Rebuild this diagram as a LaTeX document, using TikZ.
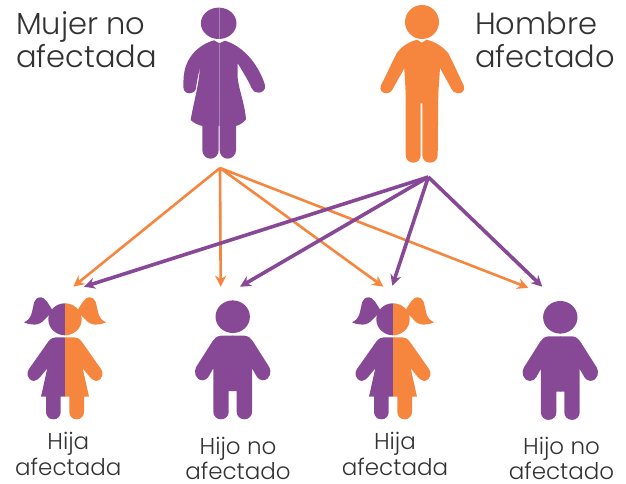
\documentclass[tikz,border=0pt]{standalone}
\usepackage{fontspec}
\setmainfont{Poppins Light}
\usetikzlibrary{arrows.meta}
\definecolor{violeta}{RGB}{135,73,150}
\definecolor{naranja}{RGB}{246,133,62}
\definecolor{texto}{RGB}{50,50,50}
\tikzset{
    flechaM/.style={naranja, line width=2.6pt, -{Stealth[length=11pt,width=11pt]}},
    flechaH/.style={violeta, line width=3.6pt, -{Stealth[length=11pt,width=11pt]}},
    titulo/.style={texto, anchor=base west, align=left, font=\fontsize{30.5}{33}\selectfont},
    etiqueta/.style={texto, anchor=base, align=center, font=\fontsize{23}{25.5}\selectfont},
    % media nina, lado izquierdo, eje en x=0
    medianina/.pic={
        \fill (0,335.3) arc[start angle=90, end angle=270, x radius=16.7, y radius=16] -- cycle;
        \fill (-13,309.5) .. controls (-17,303) and (-20,297.5) .. (-24,297.3)
            .. controls (-32,297.5) and (-31,305) .. (-33,312)
            .. controls (-34,318) and (-38,321) .. (-41,322.3)
            .. controls (-35,325) and (-26,327) .. (-20,319) -- (-14,313) -- cycle;
        \fill (0,337.3) -- (-10,337.5) .. controls (-14,338) and (-15.5,340) .. (-17,342)
            -- (-36,369) .. controls (-38.5,372) and (-38.5,380) .. (-31,381)
            .. controls (-28,381) and (-26,378) .. (-24,376) -- (-17.7,368.3)
            -- (-24,396.7) -- (-19,396.7) -- (-19,411.7)
            .. controls (-19,416) and (-16,419.3) .. (-11.7,419.3)
            .. controls (-7,419.3) and (-4.3,416) .. (-4.3,411.7)
            -- (-4.3,396.7) -- (0,396.7) -- cycle;
    },
    % medio nino, lado izquierdo, eje en x=0
    medionino/.pic={
        \fill (0.4,333) -- (0,333) arc[start angle=90, end angle=270, x radius=17.2, y radius=16.3] -- (0.4,300.4) -- cycle;
        \fill (0.4,335.7) -- (-12,335.7) .. controls (-16,336.3) and (-18,338) .. (-20,341)
            -- (-36.5,367) .. controls (-39,371) and (-38,380) .. (-30,380.3)
            .. controls (-27,380.3) and (-25.5,378.5) .. (-24,376.5) -- (-19.4,368.3)
            -- (-19.4,411.7) .. controls (-19.4,416) and (-16,419.3) .. (-12,419.3)
            .. controls (-7,419.3) and (-4,416) .. (-4,411.7)
            -- (-4,391) -- (0.4,391) -- cycle;
    },
}

\begin{document}
\begin{tikzpicture}[x=1pt, y=-1pt]
    \useasboundingbox (0,0) rectangle (626,484);

    % Padres
    \fill[violeta] (218.7,23.3) ellipse[x radius=17.8, y radius=15.7];
    \fill[violeta] (219.3,43.3) -- (214,40.3)
        .. controls (198,45) and (184,58) .. (183.5,80) -- (183.3,87)
        .. controls (183.5,91) and (186,93.3) .. (189.3,93.3)
        .. controls (193,93.3) and (196,91) .. (196,88)
        .. controls (197,80) and (199,72) .. (200,66.7)
        .. controls (199,85) and (193,105) .. (190.7,120)
        .. controls (193,122.5) and (198,125) .. (202.3,126)
        -- (202.3,150) .. controls (202.3,155) and (206,158.7) .. (210.7,158.7)
        .. controls (215,158.7) and (218.7,155) .. (218.7,150) -- (218.7,126)
        -- (219.7,126) -- (219.7,150)
        .. controls (219.7,155) and (223,158.7) .. (227.7,158.7)
        .. controls (232,158.7) and (236,155) .. (236,150) -- (236,126)
        .. controls (240,125) and (244,122) .. (246,119.3)
        .. controls (245,105) and (239,90) .. (237.7,78.3) -- (237.7,63.3)
        .. controls (243,72) and (248,80) .. (251.7,88.3)
        .. controls (253,91) and (255,92.7) .. (258.3,92.7)
        .. controls (262,92.7) and (266,90) .. (265,85)
        .. controls (259,66) and (245,47) .. (225,40.7) -- cycle;
    \draw[violeta!70!white, line width=0.5pt] (219,7.6) -- (219,39);
    \draw[violeta!70!white, line width=0.5pt] (219,44) -- (219,126);

    \fill[naranja] (422,22) circle[radius=17];
    \fill[naranja] (421.7,42.7) -- (417.3,39.7)
        .. controls (408,42) and (401,47) .. (396.7,53.3)
        .. controls (392,62) and (386,76) .. (381,85)
        .. controls (379,90) and (382,93.3) .. (386.7,93.3)
        .. controls (389.5,93.3) and (391,92) .. (392.7,89) -- (404.3,68.3)
        -- (405.7,93.3) -- (405.7,155)
        .. controls (405.7,159.5) and (409,162.7) .. (413.3,162.7)
        .. controls (417.5,162.7) and (420.7,159.5) .. (420.7,155) -- (420.7,103.3)
        -- (422.3,103.3) -- (422.3,155)
        .. controls (422.3,159.5) and (425.5,162.7) .. (430,162.7)
        .. controls (434.5,162.7) and (437.7,159.5) .. (437.7,155)
        -- (438.3,93.3) -- (440,68) -- (451,88)
        .. controls (452.5,91.5) and (455,93.3) .. (458,93.3)
        .. controls (463,93.3) and (465.5,90) .. (463.5,85)
        .. controls (459,76) and (453,62) .. (448.3,53.3)
        .. controls (443,47) and (436,42) .. (426.7,39.7) -- cycle;

    % Hijos
    \foreach \cx in {65,393} {
        \path (\cx,0) pic[violeta] {medianina};
        \path (\cx,0) pic[naranja, xscale=-1] {medianina};
    }
    \foreach \cx/\cy in {232.7/0,560.3/0.6} {
        \path (\cx,\cy) pic[violeta] {medionino};
        \path (\cx,\cy) pic[violeta, xscale=-1] {medionino};
    }

    % Flechas
    \coordinate (mujer) at (220,168);
    \coordinate (hombre) at (428.3,177);
    \coordinate (hijaA) at (73.3,286.7);
    \coordinate (hijoA) at (220.7,286.7);
    \coordinate (hijaB) at (383.3,286.7);
    \coordinate (hijoB) at (528.3,287.7);
    \coordinate (hijaAh) at (84,286.7);
    \coordinate (hijoAh) at (240,286.7);
    \coordinate (hijaBh) at (392.3,285.7);
    \coordinate (hijoBh) at (542.3,286.7);
    \foreach \dest in {hijaA,hijoA,hijaB,hijoB}
        \draw[flechaM] (mujer) -- (\dest);
    \foreach \dest in {hijaAh,hijoAh,hijaBh,hijoBh}
        \draw[flechaH] (hombre) -- (\dest);

    % Textos
    \node[titulo] (tmujer) at (12.5,68) {Mujer no\\afectada};
    \node[titulo] (thombre) at (471.5,68) {Hombre\\afectado};
    \node[etiqueta] (thijaA) at (68.3,475) {Hija\\afectada};
    \node[etiqueta] (thijoA) at (238,479.5) {Hijo no\\afectado};
    \node[etiqueta] (thijaB) at (395,475) {Hija\\afectada};
    \node[etiqueta] (thijoB) at (561.5,479.5) {Hijo no\\afectado};
\end{tikzpicture}
\end{document}
